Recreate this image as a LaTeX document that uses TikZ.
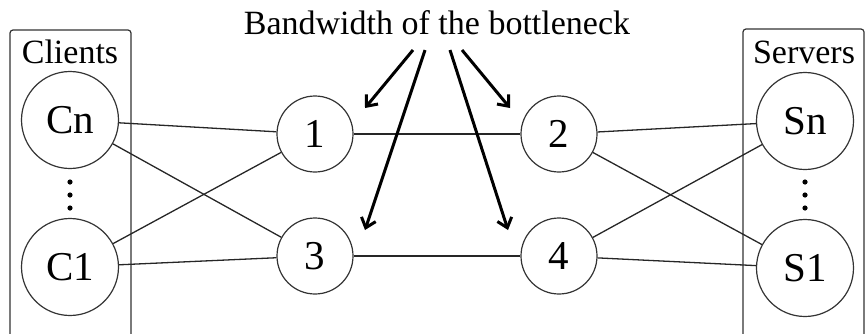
\documentclass[tikz,border=0pt]{standalone}
\usepackage{fontspec}
\setmainfont{Liberation Serif}
\usetikzlibrary{arrows.meta}
\tikzset{
  big/.style={circle,draw=black!80,line width=1.2pt,minimum size=97pt,inner sep=0pt,font=\fontsize{41}{45}\selectfont},
  mid/.style={circle,draw=black!80,line width=1.2pt,minimum size=76pt,inner sep=0pt,font=\fontsize{41}{45}\selectfont},
  link/.style={draw=black!85,line width=1.3pt},
  group/.style={draw=black!80,line width=1.2pt,rounded corners=3pt},
  lab/.style={font=\fontsize{34}{40}\selectfont,anchor=base,inner sep=0pt},
  dot/.style={fill=black,radius=2.6pt},
  pointer/.style={draw=black,line width=3pt,-{Straight Barb[length=9pt,width=15pt,line width=3pt]}}
}
\begin{document}
\begin{tikzpicture}[x=1pt,y=-1pt]
\useasboundingbox (0,0) rectangle (865,333);
\clip (0,0) rectangle (865,333);
% groups
\draw[group] (10,400) -- (10,30) -- (131,30) -- (131,400);
\draw[group] (743,400) -- (743,29) -- (864,29) -- (864,400);
\node[lab] (cl) at (70,63) {Clients};
\node[lab] (sv) at (804,63) {Servers};
\node[lab] (title) at (437,34) {Bandwidth of the bottleneck};
% nodes
\node[big] (cn) at (70,120) {Cn};
\node[big] (c1) at (70,267) {C1};
\node[big] (sn) at (805,121) {Sn};
\node[big] (s1) at (805,268) {S1};
\node[mid] (n1) at (315,134) {1};
\node[mid] (n2) at (559,134) {2};
\node[mid] (n3) at (315,256) {3};
\node[mid] (n4) at (559,256) {4};
% vertical dots
\foreach \y in {182,195,208} {
  \fill[dot] (70,\y) circle;
  \fill[dot] (805,\y) circle;
}
% links
\draw[link] (cn) -- (n1);
\draw[link] (cn) -- (n3);
\draw[link] (c1) -- (n1);
\draw[link] (c1) -- (n3);
\draw[link] (n1) -- (n2);
\draw[link] (n3) -- (n4);
\draw[link] (n2) -- (sn);
\draw[link] (n2) -- (s1);
\draw[link] (n4) -- (sn);
\draw[link] (n4) -- (s1);
% pointers
\coordinate (p1) at (365,108);
\coordinate (p2) at (510,108);
\coordinate (p3) at (365,230);
\coordinate (p4) at (508,230);
\draw[pointer] (413,50) -- (p1);
\draw[pointer] (425,50) -- (p3);
\draw[pointer] (450,50) -- (p4);
\draw[pointer] (462,50) -- (p2);
\end{tikzpicture}
\end{document}
